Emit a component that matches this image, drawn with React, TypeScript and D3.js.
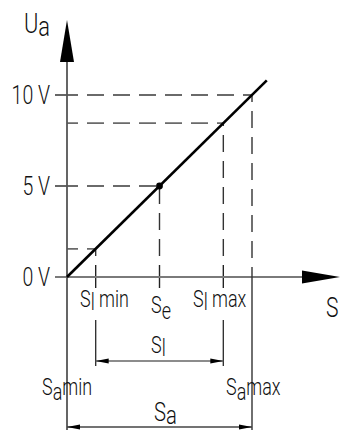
import React from "react";
import * as d3 from "d3";

// Data (S in % of measuring span Sa, U in volts)
const lineStart = { s: 0, u: 0 };
const lineEnd = { s: 108, u: 10.8 };
const voltTicks = [0, 5, 10];
const voltTickLabels = ["0 V", "5 V", "10 V"];
const refLevelsU = [1.55, 8.45];
const sPoints = [
  { key: "Slmin", s: 15.5 },
  { key: "Se", s: 50 },
  { key: "Slmax", s: 84.5 },
];
const saMin = 0;
const saMax = 100;

const W = 341;
const H = 430;
const FONT = "Roboto, 'Noto Sans', sans-serif";
const SX = 0.78;

function Label(props: { x: number; y: number; size: number; anchor?: string; children: React.ReactNode }) {
  const { x, y, size, anchor, children } = props;
  return (
    <text
      transform={`translate(${x},${y}) scale(${SX},1)`}
      fontSize={size}
      fontWeight={300}
      textAnchor={anchor || "start"}
    >
      {children}
    </text>
  );
}

export default function App() {
  const x = d3.scaleLinear().domain([0, 100]).range([67, 252]);
  const y = d3.scaleLinear().domain([0, 10]).range([277, 95]);
  const lineGen = d3
    .line<{ s: number; u: number }>()
    .x((d) => x(d.s))
    .y((d) => y(d.u));
  const uOf = (s: number) => (s * lineEnd.u) / lineEnd.s;
  const axisY = y(0);
  const axisX = x(0);
  const dashCol = "#6a6a6a";
  const txt = "#111";
  const arrow = (x1: number, yy: number, dir: number) =>
    `M${x1},${yy} L${x1 + dir * 13},${yy - 2.6} L${x1 + dir * 13},${yy + 2.6} Z`;

  const slMinX = x(sPoints[0].s);
  const slMaxX = x(sPoints[2].s);
  const seX = x(sPoints[1].s);

  return (
    <div style={{ position: "absolute", left: 0, top: 0 }}>
      <svg width={W} height={H} style={{ display: "block", fontFamily: FONT }}>
        <rect width={W} height={H} fill="#fff" />
        {/* horizontal dashed reference lines */}
        {[5, 10, ...refLevelsU].map((v) => {
          const sAt = (v * lineEnd.s) / lineEnd.u;
          return (
            <line key={"h" + v} x1={axisX} x2={x(sAt)} y1={y(v)} y2={y(v)} stroke={dashCol} strokeWidth={1.8} strokeDasharray="17 9" strokeDashoffset={6} />
          );
        })}
        {/* vertical dashed lines at Sl min, Se, Sl max */}
        {sPoints.map((p) => (
          <line key={"v" + p.key} x1={x(p.s)} x2={x(p.s)} y1={265} y2={y(uOf(p.s))} stroke="#333" strokeWidth={1.4} strokeDasharray="17 9" strokeDashoffset={17} />
        ))}
        {/* vertical dashed at Sa max */}
        <line x1={x(saMax)} x2={x(saMax)} y1={267} y2={y(uOf(saMax))} stroke="#333" strokeWidth={1.4} strokeDasharray="17 9" strokeDashoffset={17} />
        {/* x ticks */}
        {sPoints.map((p) => (
          <line key={"t" + p.key} x1={x(p.s)} x2={x(p.s)} y1={265} y2={288} stroke="#222" strokeWidth={1.4} />
        ))}
        {/* y ticks */}
        {voltTicks.map((v) => (
          <line key={"yt" + v} x1={55} x2={axisX} y1={y(v)} y2={y(v)} stroke="#555" strokeWidth={1.8} />
        ))}
        {/* x axis */}
        <line x1={55} x2={304} y1={axisY} y2={axisY} stroke="#7a7a7a" strokeWidth={2} />
        <path d={`M302,${axisY - 6.5} L340,${axisY} L302,${axisY + 6.5} Z`} fill="#000" />
        {/* y axis + Sa min extension */}
        <line x1={axisX} x2={axisX} y1={60} y2={H} stroke="#555" strokeWidth={1.8} />
        <path d={`M${axisX - 7},62 L${axisX},20 L${axisX + 7},62 Z`} fill="#000" />
        {/* Sa max extension */}
        <line x1={x(saMax)} x2={x(saMax)} y1={267} y2={H} stroke="#333" strokeWidth={1.4} />
        {/* Sl extension lines */}
        <line x1={slMinX} x2={slMinX} y1={320} y2={366} stroke="#333" strokeWidth={1.4} />
        <line x1={slMaxX} x2={slMaxX} y1={320} y2={366} stroke="#333" strokeWidth={1.4} />
        {/* Sl dimension line */}
        <line x1={slMinX} x2={slMaxX} y1={361} y2={361} stroke="#666" strokeWidth={1.6} />
        <path d={arrow(slMinX, 361, 1)} fill="#000" />
        <path d={arrow(slMaxX, 361, -1)} fill="#000" />
        {/* Sa dimension line */}
        <line x1={x(saMin)} x2={x(saMax)} y1={427} y2={427} stroke="#444" strokeWidth={1.6} />
        <path d={arrow(x(saMin), 427, 1)} fill="#000" />
        <path d={arrow(x(saMax), 427, -1)} fill="#000" />
        {/* characteristic line */}
        <path d={lineGen([lineStart, lineEnd]) || ""} stroke="#000" strokeWidth={2.6} fill="none" />
        <circle cx={seX} cy={y(uOf(sPoints[1].s))} r={3.4} fill="#000" />

        {/* texts */}
        <g fill={txt}>
          <Label x={24} y={33} size={28}>
            U<tspan dy={3}>a</tspan>
          </Label>
          {voltTicks.map((v, i) => (
            <Label key={"yl" + v} x={50} y={y(v) + 8.5} size={25} anchor="end">
              {voltTickLabels[i]}
            </Label>
          ))}
          <Label x={80} y={307} size={23}>
            S<tspan dy={3}>l</tspan>
            <tspan dy={-3}> min</tspan>
          </Label>
          <Label x={151} y={313} size={23}>
            S<tspan dy={6}>e</tspan>
          </Label>
          <Label x={193} y={307} size={23}>
            S<tspan dy={3}>l</tspan>
            <tspan dy={-3}> max</tspan>
          </Label>
          <Label x={326} y={317} size={27}>S</Label>
          <Label x={151} y={353} size={23}>
            S<tspan dy={3}>l</tspan>
          </Label>
          <Label x={42} y={395} size={23}>
            S<tspan dy={5}>a</tspan>
            <tspan dy={-5}>min</tspan>
          </Label>
          <Label x={226} y={395} size={23}>
            S<tspan dy={5}>a</tspan>
            <tspan dy={-5}>max</tspan>
          </Label>
          <Label x={154} y={421} size={26}>
            S<tspan dy={3}>a</tspan>
          </Label>
        </g>
      </svg>
    </div>
  );
}
